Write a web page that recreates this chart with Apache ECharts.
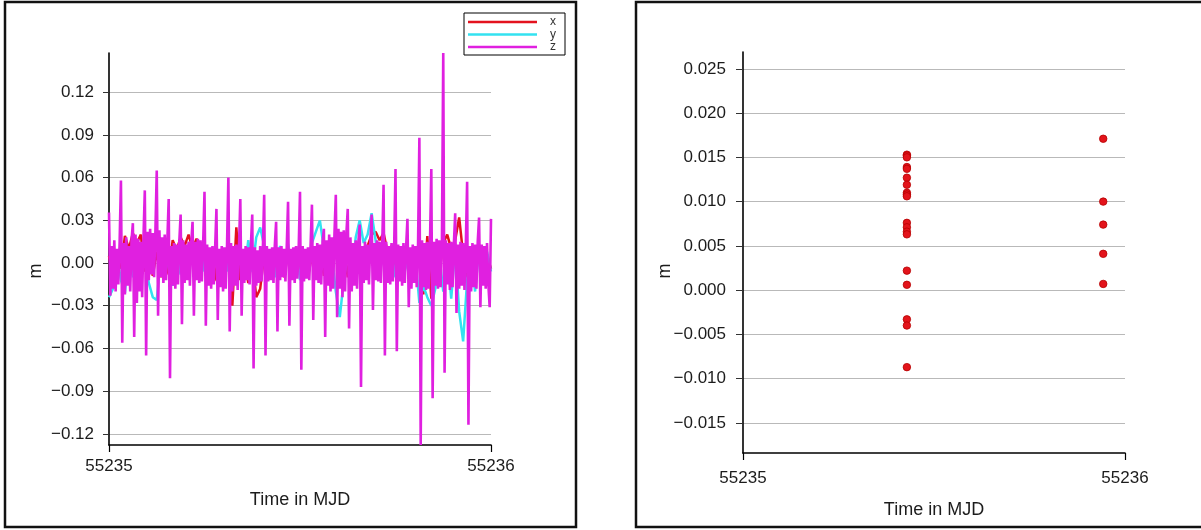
<!DOCTYPE html>
<html>
<head>
<meta charset="utf-8">
<script src="https://cdn.jsdelivr.net/npm/echarts@6/dist/echarts.min.js"></script>
<style>
  html, body { margin: 0; padding: 0; background: #ffffff; }
  #chart { width: 1201px; height: 530px; }
</style>
</head>
<body>
<div id="chart"></div>
<script>
// ---- Data -------------------------------------------------------------
// Start of the observation day (MJD) and sampling steps of the series
const mjdStart = 55235;
const xyStepDays = 1 / 96;   // x / y components: one sample per 15 min
const zStepDays = 1 / 288;   // z component: one sample per 5 min

// Component x [m]
const seriesX = [
  0.005, -0.008, 0.008, -0.004, 0.019, 0.010, 0.021, 0.014, 0.020, -0.006,
  0.006, -0.009, 0.008, -0.010, 0.004, -0.008, 0.016, 0.009, 0.018, 0.012,
  0.020, 0.010, 0.017, 0.012, 0.004, -0.008, 0.006, -0.012, -0.016, -0.010,
  0.008, -0.030, 0.025, -0.012, 0.006, -0.014, 0.004, -0.024, -0.018, 0.006,
  -0.010, 0.008, -0.008, 0.006, -0.010, 0.007, -0.009, 0.008, -0.006, 0.009,
  -0.010, 0.006, -0.008, 0.010, -0.009, 0.008, -0.006, 0.010, -0.012, 0.012,
  -0.010, 0.014, -0.012, 0.010, -0.008, 0.012, 0.020, 0.022, 0.016, 0.021,
  0.008, 0.012, -0.006, 0.008, -0.010, 0.006, -0.012, -0.008, 0.016, -0.022,
  0.019, -0.025, 0.012, -0.008, 0.014, 0.020, 0.010, 0.016, 0.032, 0.006,
  -0.010, 0.008, -0.012, 0.010, -0.008, 0.006, -0.004
];

// Component y [m]
const seriesY = [
  -0.024, -0.018, 0.006, -0.012, -0.021, 0.008, -0.010, 0.012, -0.008, 0.006,
  -0.014, -0.024, -0.026, 0.004, -0.010, 0.008, -0.016, 0.006, -0.008, 0.010,
  -0.006, 0.009, -0.008, 0.012, -0.006, 0.008, -0.010, 0.012, -0.008, 0.010,
  -0.006, 0.011, -0.009, 0.013, -0.008, 0.016, -0.006, 0.018, 0.025, 0.012,
  -0.008, 0.010, -0.010, 0.012, -0.008, 0.013, -0.010, 0.011, -0.012, 0.009,
  -0.010, 0.014, 0.022, 0.030, 0.010, -0.008, 0.006, -0.020, -0.038, -0.012,
  0.008, -0.010, 0.018, 0.030, 0.014, 0.020, 0.035, 0.016, -0.008, 0.010,
  -0.012, 0.008, -0.010, 0.009, -0.012, 0.006, -0.014, 0.004, -0.028, -0.016,
  -0.024, -0.030, -0.018, 0.006, -0.020, 0.008, -0.025, 0.010, -0.034, -0.055,
  -0.012, 0.008, -0.020, 0.010, -0.014, 0.008, -0.006
];

// Component z [m]; every 45 min a short up/down excursion (one row = 45 min)
const seriesZ = [
  0.0355, -0.023, 0.012, -0.018, 0.016, -0.020, 0.010, -0.015, 0.014,
  0.058, -0.056, 0.014, -0.022, 0.018, -0.016, 0.012, -0.020, 0.016,
  0.028, -0.052, 0.020, -0.028, 0.017, -0.020, 0.015, -0.024, 0.018,
  0.051, -0.065, 0.022, -0.012, 0.024, -0.008, 0.021, -0.010, 0.023,
  0.065, -0.037, 0.023, -0.010, 0.018, -0.014, 0.020, -0.012, 0.016,
  0.045, -0.081, 0.012, -0.016, 0.014, -0.018, 0.013, -0.015, 0.015,
  0.034, -0.043, 0.016, -0.014, 0.013, -0.012, 0.015, -0.016, 0.014,
  0.029, -0.037, 0.015, -0.012, 0.017, -0.014, 0.016, -0.013, 0.014,
  0.050, -0.044, 0.013, -0.016, 0.011, -0.018, 0.012, -0.015, 0.010,
  0.038, -0.040, 0.010, -0.017, 0.012, -0.020, 0.011, -0.018, 0.013,
  0.060, -0.048, 0.014, -0.020, 0.012, -0.016, 0.013, -0.019, 0.011,
  0.045, -0.037, 0.010, -0.014, 0.012, -0.012, 0.011, -0.015, 0.013,
  0.034, -0.074, 0.011, -0.016, 0.009, -0.014, 0.012, -0.013, 0.010,
  0.048, -0.065, 0.012, -0.013, 0.010, -0.012, 0.011, -0.014, 0.012,
  0.029, -0.048, 0.011, -0.012, 0.012, -0.010, 0.010, -0.013, 0.011,
  0.043, -0.044, 0.010, -0.012, 0.011, -0.014, 0.012, -0.011, 0.010,
  0.050, -0.075, 0.012, -0.013, 0.010, -0.011, 0.011, -0.012, 0.013,
  0.041, -0.040, 0.012, -0.012, 0.014, -0.014, 0.013, -0.015, 0.015,
  0.024, -0.052, 0.016, -0.016, 0.020, -0.020, 0.018, -0.018, 0.021,
  0.048, -0.038, 0.024, -0.018, 0.022, -0.024, 0.023, -0.020, 0.021,
  0.038, -0.046, 0.018, -0.020, 0.014, -0.016, 0.016, -0.018, 0.015,
  0.027, -0.087, 0.012, -0.014, 0.015, -0.012, 0.013, -0.015, 0.014,
  0.034, -0.033, 0.014, -0.012, 0.016, -0.013, 0.015, -0.014, 0.013,
  0.055, -0.065, 0.015, -0.014, 0.012, -0.015, 0.014, -0.013, 0.012,
  0.066, -0.062, 0.013, -0.013, 0.012, -0.016, 0.014, -0.014, 0.011,
  0.031, -0.031, 0.011, -0.018, 0.013, -0.014, 0.012, -0.017, 0.013,
  0.088, -0.1278, 0.016, -0.017, 0.014, -0.019, 0.015, -0.018, 0.014,
  0.066, -0.095, 0.015, -0.016, 0.017, -0.018, 0.016, -0.017, 0.015,
  0.1475, -0.077, 0.016, -0.015, 0.014, -0.019, 0.015, -0.017, 0.013,
  0.035, -0.035, 0.013, -0.018, 0.015, -0.016, 0.014, -0.019, 0.012,
  0.057, -0.1135, 0.012, -0.020, 0.014, -0.017, 0.013, -0.018, 0.015,
  0.032, -0.031, 0.013, -0.016, 0.012, -0.018, 0.014, -0.015, -0.031,
  0.031
];

// Single-epoch estimates shown in the right panel
const epochA = 55235.429;
const valuesA = [
  0.0153, 0.0152, 0.0150, 0.0139, 0.0137, 0.0127, 0.0119, 0.0110, 0.0108, 0.0106,
  0.0076, 0.0071, 0.0066, 0.0063, 0.0022, 0.0006, -0.0033, -0.0040, -0.0087
];
const epochB = 55235.943;
const valuesB = [0.0171, 0.0100, 0.0074, 0.0041, 0.0007];

// Tick values of the two value axes
const leftTicks = [-0.12, -0.09, -0.06, -0.03, 0.00, 0.03, 0.06, 0.09, 0.12];
const rightTicks = [-0.015, -0.010, -0.005, 0.000, 0.005, 0.010, 0.015, 0.020, 0.025];
const rightRange = [-0.0184, 0.0269];
const xTitle = 'Time in MJD';
const yTitle = 'm';

// ---- Helpers ----------------------------------------------------------
const toPairs = (values, step) => values.map((v, i) => [mjdStart + i * step, v]);
const fmt = (digits) => (v) => {
  const r = Number(v.toFixed(digits));
  return (r < 0 ? '\u2212' : '') + Math.abs(r).toFixed(digits);
};

const FONT = 'Liberation Sans';
const TEXT = '#1c1c1c';

function xAxisFor(gridIndex, labelMargin, nameGap) {
  return {
    type: 'value', gridIndex, min: mjdStart, max: mjdStart + 1, interval: 1,
    name: xTitle, nameLocation: 'middle', nameGap,
    nameTextStyle: { fontFamily: FONT, fontSize: 18, color: TEXT },
    axisLine: { show: true, onZero: false, lineStyle: { color: '#000', width: 1.6 } },
    axisTick: { show: true, inside: false, length: 7, lineStyle: { color: '#000', width: 1.2 } },
    axisLabel: { margin: labelMargin, fontFamily: FONT, fontSize: 17, color: TEXT, formatter: v => String(v) },
    splitLine: { show: false }
  };
}

function yAxisFor(gridIndex, ticks, digits, range, tickLen, labelMargin) {
  return {
    type: 'value', gridIndex,
    min: range[0], max: range[1],
    axisLine: { show: true, onZero: false, lineStyle: { color: '#000', width: 1.6 } },
    axisTick: { show: true, length: tickLen, customValues: ticks, lineStyle: { color: '#333', width: 1 } },
    axisLabel: { margin: labelMargin, fontFamily: FONT, fontSize: 17, color: TEXT,
                 customValues: ticks, formatter: fmt(digits) },
    splitLine: { show: true, lineStyle: { color: '#b9b9b9', width: 1.2 } }
  };
}

// ---- Chart ------------------------------------------------------------
const chart = echarts.init(document.getElementById('chart'), null, { renderer: 'canvas' });

chart.setOption({
  animation: false,
  backgroundColor: '#ffffff',
  textStyle: { fontFamily: FONT },
  grid: [
    { left: 109, top: 53, width: 382, height: 392, containLabel: false },
    { left: 743, top: 52, width: 382, height: 401, containLabel: false }
  ],
  xAxis: [ xAxisFor(0, 13, 46), xAxisFor(1, 17, 48) ],
  yAxis: [
    yAxisFor(0, leftTicks, 2, ['dataMin', 'dataMax'], 6, 15),
    yAxisFor(1, rightTicks, 3, rightRange, 7, 17)
  ],
  legend: {
    data: ['x', 'y', 'z'],
    orient: 'vertical',
    left: 464, top: 13,
    icon: 'rect',
    itemWidth: 69, itemHeight: 2.5,
    itemGap: 0.5,
    padding: [3, 9, 2, 4],
    borderColor: '#000', borderWidth: 1,
    backgroundColor: '#fff',
    textStyle: { fontFamily: FONT, fontSize: 12, color: '#333', lineHeight: 12, padding: [0, 0, 0, 8] }
  },
  series: [
    { name: 'x', type: 'line', xAxisIndex: 0, yAxisIndex: 0, data: toPairs(seriesX, xyStepDays),
      showSymbol: false, symbol: 'none', lineStyle: { color: '#e3121e', width: 2.5 }, itemStyle: { color: '#e3121e' } },
    { name: 'y', type: 'line', xAxisIndex: 0, yAxisIndex: 0, data: toPairs(seriesY, xyStepDays),
      showSymbol: false, symbol: 'none', lineStyle: { color: '#33e2f0', width: 2.5 }, itemStyle: { color: '#33e2f0' } },
    { name: 'z', type: 'line', xAxisIndex: 0, yAxisIndex: 0, data: toPairs(seriesZ, zStepDays),
      showSymbol: false, symbol: 'none', lineStyle: { color: '#e020e0', width: 2.6 }, itemStyle: { color: '#e020e0' } },
    { name: 'estimates', type: 'scatter', xAxisIndex: 1, yAxisIndex: 1,
      data: valuesA.map(v => [epochA, v]).concat(valuesB.map(v => [epochB, v])),
      symbol: 'circle', symbolSize: 7.5,
      itemStyle: { color: '#e3141b', borderColor: '#b50000', borderWidth: 0.8, opacity: 1 } }
  ],
  graphic: [
    { type: 'rect', shape: { x: 5, y: 2, width: 571, height: 525 },
      style: { fill: 'none', stroke: '#111', lineWidth: 2.5 }, silent: true },
    { type: 'rect', shape: { x: 636, y: 2, width: 580, height: 525 },
      style: { fill: 'none', stroke: '#111', lineWidth: 2.5 }, silent: true },
    { type: 'text', x: 36, y: 271, rotation: Math.PI / 2,
      style: { text: yTitle, font: '18px "Liberation Sans"', fill: TEXT, align: 'center', verticalAlign: 'middle' } },
    { type: 'text', x: 665, y: 271, rotation: Math.PI / 2,
      style: { text: yTitle, font: '18px "Liberation Sans"', fill: TEXT, align: 'center', verticalAlign: 'middle' } }
  ]
});
</script>
</body>
</html>
